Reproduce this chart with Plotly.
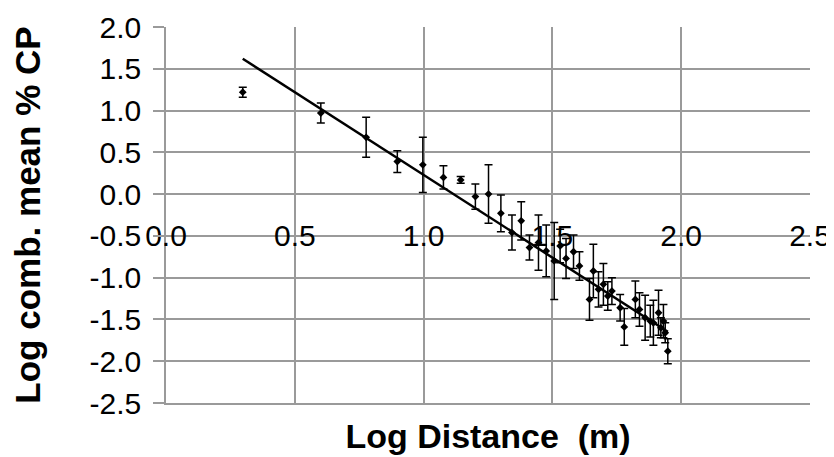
import plotly.graph_objects as go

log_distance = [0.298, 0.601, 0.777, 0.898, 0.997, 1.077, 1.144, 1.201, 1.252,
                1.300, 1.343, 1.379, 1.411, 1.446, 1.476, 1.507, 1.530, 1.553,
                1.582, 1.605, 1.644, 1.659, 1.679, 1.698, 1.715, 1.731, 1.763,
                1.779, 1.822, 1.838, 1.860, 1.880, 1.892, 1.912, 1.921, 1.931,
                1.938, 1.948]
log_cp = [1.22, 0.97, 0.68, 0.39, 0.35, 0.20, 0.17, -0.03, 0.00,
          -0.23, -0.46, -0.32, -0.64, -0.58, -0.68, -0.80, -0.62, -0.77,
          -0.69, -0.86, -1.26, -0.92, -1.14, -1.08, -1.22, -1.16, -1.36,
          -1.59, -1.26, -1.38, -1.48, -1.52, -1.54, -1.42, -1.60, -1.52,
          -1.66, -1.88]
err = [0.06, 0.12, 0.24, 0.13, 0.33, 0.14, 0.04, 0.15, 0.35,
       0.22, 0.21, 0.23, 0.15, 0.33, 0.31, 0.46, 0.20, 0.24,
       0.20, 0.17, 0.25, 0.32, 0.21, 0.25, 0.17, 0.16, 0.16,
       0.22, 0.22, 0.20, 0.27, 0.19, 0.27, 0.27, 0.12, 0.20,
       0.12, 0.15]

fit_x = [0.298, 1.948]
fit_intercept = 2.21
fit_slope = -1.98
fit_y = [fit_intercept + fit_slope * v for v in fit_x]

x_ticks = [0.0, 0.5, 1.0, 1.5, 2.0, 2.5]
x_tick_text = ["0.0", "0.5", "1.0", "1.5", "2.0", "2.5"]
y_ticks = [2.0, 1.5, 1.0, 0.5, 0.0, -0.5, -1.0, -1.5, -2.0, -2.5]
y_tick_text = ["2.0", "1.5", "1.0", "0.5", "0.0", "-0.5", "-1.0", "-1.5", "-2.0", "-2.5"]

GRID = "#9a9a9a"
FONT = "Liberation Sans, Arial, sans-serif"

fig = go.Figure()
fig.add_trace(go.Scatter(
    x=log_distance, y=log_cp, mode="markers",
    marker=dict(symbol="diamond", size=6, color="black"),
    error_y=dict(type="data", array=err, visible=True, color="black",
                 thickness=1.5, width=4),
    showlegend=False))
fig.add_trace(go.Scatter(
    x=fit_x, y=fit_y, mode="lines", xaxis="x2",
    line=dict(color="black", width=2.5), showlegend=False))

fig.update_layout(
    width=834, height=457,
    margin=dict(l=158, r=32, t=19, b=62),
    paper_bgcolor="white", plot_bgcolor="white",
    font=dict(family=FONT, size=30, color="black"),
    xaxis=dict(
        range=[0, 2.5], tickvals=x_ticks, ticktext=x_tick_text,
        anchor="free", position=2.5 / 4.5, automargin=False,
        showgrid=True, gridcolor=GRID, gridwidth=1.5,
        zeroline=False, showline=False, ticks="",
        ticklabelstandoff=21,
        tickfont=dict(size=30)),
    xaxis2=dict(
        range=[0, 2.5], matches="x", overlaying="x", anchor="y", side="bottom",
        showticklabels=False, showgrid=False, zeroline=False, automargin=False,
        showline=True, linecolor=GRID, linewidth=1.5,
        title=dict(text="<b>Log Distance \u00a0(m)</b>", font=dict(size=34), standoff=20)),
    yaxis=dict(
        range=[-2.5, 2.0], tickvals=y_ticks, ticktext=y_tick_text,
        automargin=False,
        showgrid=True, gridcolor=GRID, gridwidth=1.5,
        zeroline=False, showline=True, linecolor=GRID, linewidth=1.5,
        ticks="outside", ticklen=11, tickcolor=GRID, tickwidth=1.5,
        ticklabelstandoff=6,
        tickfont=dict(size=30),
        title=dict(text="<b>Log comb. mean % CP</b>", font=dict(size=35), standoff=38)),
)

fig.write_html("out.html")
